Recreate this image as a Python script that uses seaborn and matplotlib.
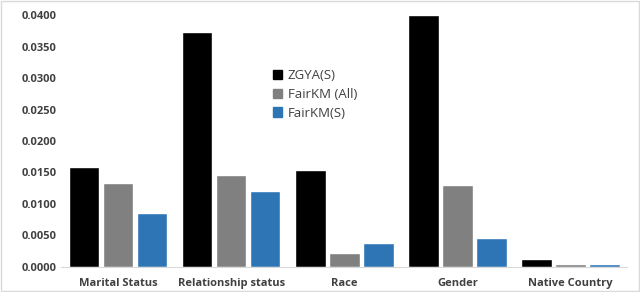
import matplotlib
matplotlib.use("Agg")
import matplotlib.pyplot as plt
import pandas as pd
import seaborn as sns
from matplotlib.patches import Rectangle
from matplotlib.ticker import FormatStrFormatter

categories = ["Marital Status", "Relationship status", "Race", "Gender", "Native Country"]
methods = ["ZGYA(S)", "FairKM (All)", "FairKM(S)"]
zgya_s = [0.0159, 0.0373, 0.0154, 0.0401, 0.0013]
fairkm_all = [0.0133, 0.0146, 0.0022, 0.0130, 0.0005]
fairkm_s = [0.0086, 0.0121, 0.0038, 0.0046, 0.0005]

colors = ["#000000", "#808080", "#2E75B6"]

rows = []
for m, vals in zip(methods, [zgya_s, fairkm_all, fairkm_s]):
    for c, v in zip(categories, vals):
        rows.append({"category": c, "method": m, "value": v})
df = pd.DataFrame(rows)

sns.set_style("white")
plt.rcParams["font.family"] = ["Open Sans", "DejaVu Sans"]

fig = plt.figure(figsize=(6.4, 2.92), dpi=100)
ax = fig.add_axes([0.096, 0.086, 0.884, 0.862])

sns.barplot(data=df, x="category", y="value", hue="method", order=categories,
            hue_order=methods, palette=colors, width=0.9, gap=0.1,
            saturation=1, legend=False, ax=ax)

ax.set_ylim(0, 0.04)
ax.set_yticks([i * 0.005 for i in range(9)])
ax.yaxis.set_major_formatter(FormatStrFormatter("%.4f"))
ax.set_xlim(-0.5, 4.5)
ax.set_xlabel("")
ax.set_ylabel("")
for s in ["top", "right", "left"]:
    ax.spines[s].set_visible(False)
ax.spines["bottom"].set_color("#d9d9d9")
ax.tick_params(axis="both", length=0, labelsize=8, labelcolor="#404040")
ax.tick_params(axis="x", pad=8)
for lab in ax.get_xticklabels() + ax.get_yticklabels():
    lab.set_fontweight("bold")

handles = [Rectangle((0, 0), 1, 1, color=c) for c in colors]
fig.legend(handles, methods, loc="upper left", bbox_to_anchor=(0.408, 0.805),
           frameon=False, fontsize=9.5, labelcolor="#404040", handlelength=0.7,
           handleheight=0.7, handletextpad=0.4, labelspacing=0.45)

fig.add_artist(Rectangle((0.001, 0.002), 0.997, 0.995, transform=fig.transFigure,
                         fill=False, edgecolor="#d9d9d9", linewidth=1))

plt.savefig("out.png", dpi=100)
plt.close()
